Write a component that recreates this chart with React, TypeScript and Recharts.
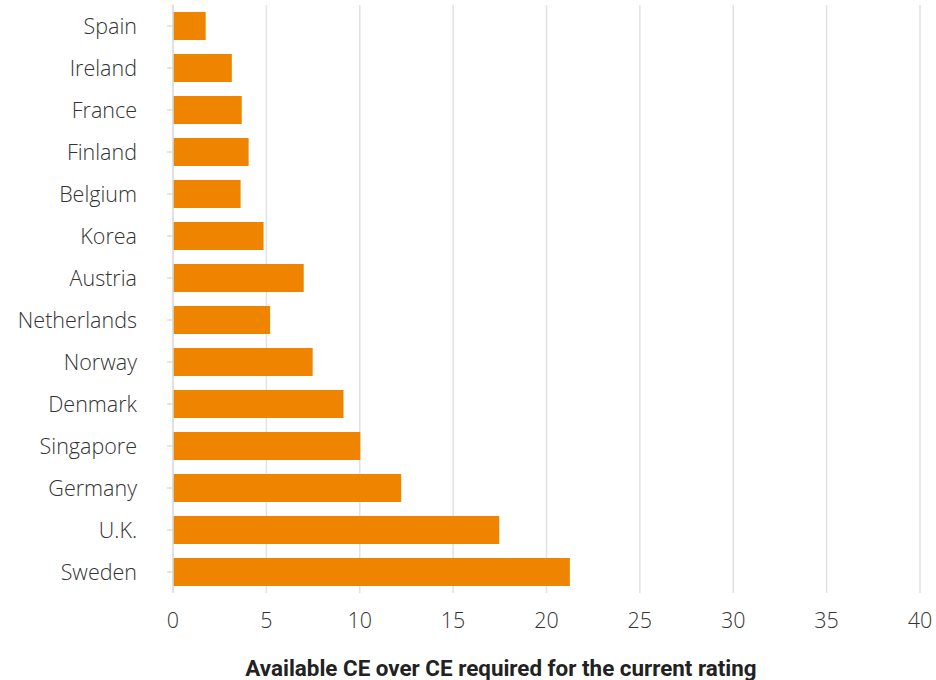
import React from 'react';
import { BarChart, Bar, XAxis, YAxis, CartesianGrid } from 'recharts';

const countries = [
  'Spain', 'Ireland', 'France', 'Finland', 'Belgium', 'Korea', 'Austria',
  'Netherlands', 'Norway', 'Denmark', 'Singapore', 'Germany', 'U.K.', 'Sweden',
];
const ratios = [1.75, 3.15, 3.68, 4.05, 3.62, 4.85, 7.0, 5.2, 7.48, 9.13, 10.03, 12.22, 17.47, 21.25];
const xTicks = [0, 5, 10, 15, 20, 25, 30, 35, 40];
const axisTitle = 'Available CE over CE required for the current rating';

const data = countries.map((name, i) => ({ name, value: ratios[i] }));

const TICK_FONT = '"Open Sans", Roboto, sans-serif';
const TITLE_FONT = 'Roboto, "DejaVu Sans", sans-serif';

const App: React.FC = () => {
  return (
    <div style={{ position: 'absolute', left: 0, top: 0, width: 936, height: 680, background: '#fff' }}>
      <BarChart
        width={936}
        height={680}
        data={data}
        layout="vertical"
        margin={{ top: 5, right: 16, left: 0, bottom: 47 }}
        barCategoryGap={7}
      >
        <CartesianGrid horizontal={false} stroke="#e2e2e2" strokeWidth={1.5} />
        <XAxis
          type="number"
          domain={[0, 40]}
          ticks={xTicks}
          axisLine={false}
          tickLine={false}
          tickSize={0}
          tickMargin={20}
          height={40}
          tick={{ fill: '#333', fontSize: 21.5, fontWeight: 300, fontFamily: TICK_FONT }}
        />
        <YAxis
          type="category"
          dataKey="name"
          width={173}
          axisLine={{ stroke: '#dcdcdc', strokeWidth: 1.5 }}
          tickLine={{ stroke: '#dcdcdc', strokeWidth: 1.5 }}
          tickSize={6}
          tickMargin={30}
          interval={0}
          tick={{ fill: '#333', fontSize: 21.5, fontWeight: 300, fontFamily: TICK_FONT }}
        />
        <Bar dataKey="value" fill="#ee8400" isAnimationActive={false} />
      </BarChart>
      <div
        style={{
          position: 'absolute',
          left: 0,
          width: 1002,
          top: 655,
          textAlign: 'center',
          fontFamily: TITLE_FONT,
          fontSize: 22.4,
          fontWeight: 700,
          color: '#222',
          lineHeight: '26px',
        }}
      >
        {axisTitle}
      </div>
    </div>
  );
};

export default App;
